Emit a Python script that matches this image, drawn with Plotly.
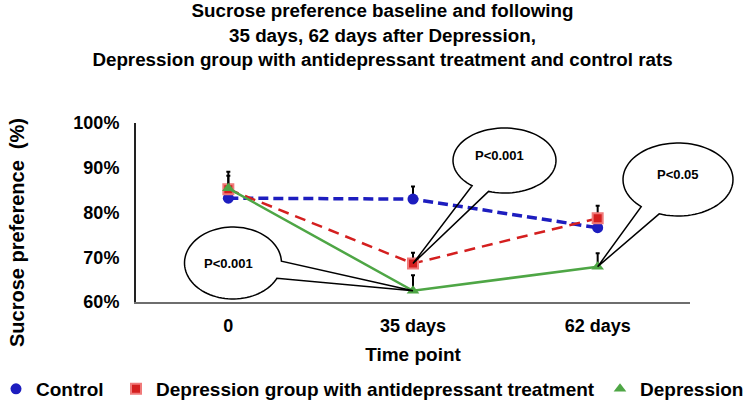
import numpy as np
import plotly.graph_objects as go

# ---------------- data ----------------
time_points = ["0", "35 days", "62 days"]
control = [83.2, 83.0, 76.6]
antidep = [85.2, 68.6, 78.7]
depression = [85.4, 62.5, 67.9]
control_err = [2.5, 2.8, 2.5]
antidep_err = [3.0, 2.4, 2.8]
depression_err = [3.7, 3.5, 3.0]
y_ticks = [60, 70, 80, 90, 100]
series_names = ["Control", "Depression group with antidepressant treatment", "Depression"]
p_labels = ["P<0.001", "P<0.001", "P<0.05"]

FONT = "Liberation Sans, Arial, Helvetica, sans-serif"
BLUE = "#1d1dbf"
GREEN = "#4ea645"

# plot-area geometry (px) used to place annotation bubbles
W, H = 750, 401
ML, MR, MT, MB = 136, 60, 123, 99
PW, PH = W - ML - MR, H - MT - MB
YMIN, YMAX = 60, 100


def px_to_paper(px, py):
    return (px - ML) / PW, (H - MB - py) / PH


def data_to_px(idx, val):
    return ML + (idx + 0.5) * PW / 3, (H - MB) - (val - YMIN) * PH / (YMAX - YMIN)


fig = go.Figure()


def add_series(name, vals, errs, color, symbol, size, dash, width, mline, legend):
    fig.add_trace(go.Scatter(
        x=time_points, y=vals, mode="lines+markers", name=name, showlegend=False,
        line=dict(color=color, width=width, dash=dash),
        marker=dict(symbol=symbol, size=size, color=color, line=mline),
        error_y=dict(type="data", symmetric=False, array=errs, arrayminus=[0] * len(errs),
                     color="black", thickness=2, width=2),
    ))
    fig.add_trace(go.Scatter(
        x=[None], y=[None], mode="markers", name=f"<b>{name}</b>", showlegend=True, legend=legend,
        marker=dict(symbol=symbol, size=size, color=color, line=mline),
    ))


add_series(series_names[0], control, control_err, BLUE, "circle", 11, "10px,5px", 3.5,
           dict(width=0, color=BLUE), "legend")
add_series(series_names[1], antidep, antidep_err, "#d41f1f", "square", 10, "11px,7px", 2.5,
           dict(width=2, color="#f07a7a"), "legend2")
add_series(series_names[2], depression, depression_err, GREEN, "triangle-up", 11, "solid", 2.5,
           dict(width=0, color=GREEN), "legend3")

# ---------------- speech bubbles ----------------
bubbles = [
    dict(c=(233, 263), rx=48.5, ry=36, ang=(-3, 25), tip=(depression, 1), t=(228, 263), label=p_labels[0]),
    dict(c=(504.5, 160.5), rx=51.5, ry=32.5, ang=(108, 129), tip=(antidep, 1), t=(499, 155), label=p_labels[1]),
    dict(c=(678, 179.5), rx=55, ry=36.5, ang=(110, 132), tip=(depression, 2), t=(678, 174), label=p_labels[2]),
]
shapes = []
annotations = []
for b in bubbles:
    lo, hi = b["ang"]
    th = np.radians(np.linspace(hi, lo + 360, 90))
    xs = b["c"][0] + b["rx"] * np.cos(th)
    ys = b["c"][1] + b["ry"] * np.sin(th)
    series, idx = b["tip"]
    tx, ty = data_to_px(idx, series[idx])
    pts = [px_to_paper(x, y) for x, y in zip(xs, ys)] + [px_to_paper(tx, ty)]
    path = "M " + " L ".join(f"{p[0]:.4f},{p[1]:.4f}" for p in pts) + " Z"
    shapes.append(dict(type="path", xref="paper", yref="paper", path=path,
                       line=dict(color="black", width=1.5), fillcolor="rgba(0,0,0,0)", layer="above"))
    ax, ay = px_to_paper(*b["t"])
    annotations.append(dict(x=ax, y=ay, xref="paper", yref="paper", text=f"<b>{b['label']}</b>",
                            showarrow=False, xanchor="center", yanchor="middle",
                            font=dict(size=13, color="black", family=FONT)))

# y-axis title as annotation (positioned like the reference)
yx, yy = px_to_paper(17, 233)
annotations.append(dict(x=yx, y=yy, xref="paper", yref="paper", text="<b>Sucrose preference  (%)</b>",
                        textangle=-90, showarrow=False, xanchor="center", yanchor="middle",
                        font=dict(size=20, color="black", family=FONT)))

leg_y = px_to_paper(0, 389)[1]
leg_font = dict(size=19, color="black", family=FONT)
fig.update_layout(
    width=W, height=H,
    margin=dict(l=ML, r=MR, t=MT, b=MB, autoexpand=False),
    paper_bgcolor="white", plot_bgcolor="white",
    font=dict(family=FONT, color="black"),
    title=dict(text="<b>Sucrose preference baseline and following<br>35 days, 62 days after Depression,<br>"
                    "Depression group with antidepressant treatment and control rats</b>",
               x=0.51, xanchor="center", y=0.957, yanchor="top", font=dict(size=18.8, color="black")),
    xaxis=dict(type="category", range=[-0.5, 2.5], showline=True, linecolor="#6e6e6e", linewidth=1.5,
               showgrid=False, zeroline=False, ticks="", ticklabelstandoff=7,
               tickvals=time_points, ticktext=[f"<b>{t}</b>" for t in time_points],
               tickfont=dict(size=18, color="black", family=FONT),
               title=dict(text="<b>Time point</b>", font=dict(size=19, color="black"), standoff=12)),
    yaxis=dict(range=[YMIN, YMAX], tickvals=y_ticks, ticktext=[f"<b>{v}%</b>" for v in y_ticks],
               showline=True, linecolor="#222", linewidth=2, showgrid=False, zeroline=False,
               ticks="", ticklabelstandoff=11, tickfont=dict(size=18, color="black", family=FONT)),
    legend=dict(orientation="h", x=px_to_paper(-4, 0)[0], xanchor="left", y=leg_y, yanchor="middle",
                font=leg_font, bgcolor="rgba(0,0,0,0)"),
    legend2=dict(orientation="h", x=px_to_paper(116, 0)[0], xanchor="left", y=leg_y, yanchor="middle",
                 font=leg_font, bgcolor="rgba(0,0,0,0)"),
    legend3=dict(orientation="h", x=px_to_paper(600, 0)[0], xanchor="left", y=leg_y, yanchor="middle",
                 font=leg_font, bgcolor="rgba(0,0,0,0)"),
    shapes=shapes,
    annotations=annotations,
    showlegend=True,
)

fig.write_html("out.html", config={"displayModeBar": False},
               post_script="document.body.style.margin='0';document.body.style.padding='0';")
